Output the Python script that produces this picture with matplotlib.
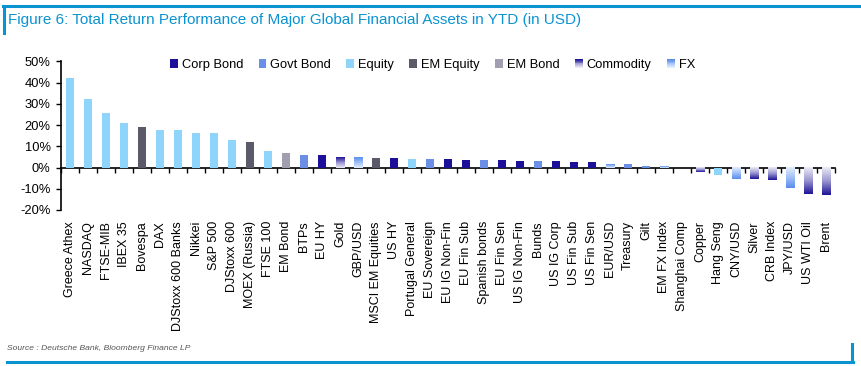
import numpy as np
import matplotlib
matplotlib.use("Agg")
import matplotlib.pyplot as plt
from matplotlib.patches import Rectangle
from matplotlib.lines import Line2D
from matplotlib.legend_handler import HandlerBase
from matplotlib.colors import LinearSegmentedColormap

plt.rcParams['font.family'] = ['Liberation Sans', 'DejaVu Sans']

categories = ["Greece Athex", "NASDAQ", "FTSE-MIB", "IBEX 35", "Bovespa", "DAX",
              "DJStoxx 600 Banks", "Nikkei", "S&P 500", "DJStoxx 600", "MOEX (Russia)",
              "FTSE 100", "EM Bond", "BTPs", "EU HY", "Gold", "GBP/USD",
              "MSCI EM Equities", "US HY", "Portugal General", "EU Sovereign",
              "EU IG Non-Fin", "EU Fin Sub", "Spanish bonds", "EU Fin Sen",
              "US IG Non-Fin", "Bunds", "US IG Corp", "US Fin Sub", "US Fin Sen",
              "EUR/USD", "Treasury", "Gilt", "EM FX Index", "Shanghai Comp", "Copper",
              "Hang Seng", "CNY/USD", "Silver", "CRB Index", "JPY/USD", "US WTI Oil", "Brent"]
values = [42.3, 32.1, 25.5, 21.1, 18.9, 17.9, 17.9, 16.4, 16.4, 13.1, 12.1,
          7.9, 6.9, 6.0, 6.0, 5.1, 5.1, 4.6, 4.6, 4.1, 4.1,
          4.1, 3.6, 3.6, 3.6, 3.2, 3.2, 3.2, 2.7, 2.7,
          1.7, 1.7, 0.8, 0.8, -0.2, -2.1, -3.5, -5.5, -5.4, -5.8, -9.6, -12.4, -12.9]
asset_class = ["Equity", "Equity", "Equity", "Equity", "EM Equity", "Equity",
               "Equity", "Equity", "Equity", "Equity", "EM Equity",
               "Equity", "EM Bond", "Govt Bond", "Corp Bond", "Commodity", "FX",
               "EM Equity", "Corp Bond", "Equity", "Govt Bond",
               "Corp Bond", "Corp Bond", "Govt Bond", "Corp Bond",
               "Corp Bond", "Govt Bond", "Corp Bond", "Corp Bond", "Corp Bond",
               "FX", "Govt Bond", "Govt Bond", "FX", "EM Equity", "Commodity",
               "Equity", "FX", "Commodity", "Commodity", "FX", "Commodity", "Commodity"]
legend_order = ["Corp Bond", "Govt Bond", "Equity", "EM Equity", "EM Bond", "Commodity", "FX"]
y_ticks = [-20, -10, 0, 10, 20, 30, 40, 50]

solid_colors = {"Corp Bond": "#1c1099", "Govt Bond": "#6b8ee6", "Equity": "#8fd4fa",
                "EM Equity": "#5b5a68", "EM Bond": "#a09fb0"}
grad_cmaps = {
    "Commodity": LinearSegmentedColormap.from_list("comm", ["#ecebf6", "#9a96d0", "#1e1397"]),
    "FX": LinearSegmentedColormap.from_list("fx", ["#e3edfc", "#9fc0f6", "#5a8cec"]),
}

BLUE = "#0a93d1"
W, H = 862, 366
fig = plt.figure(figsize=(W / 100, H / 100), dpi=100)

# frame decorations
fig.add_artist(Line2D([3 / W, 1.0], [1 - 6 / H, 1 - 6 / H], color=BLUE, lw=2.2))
fig.add_artist(Line2D([4 / W, 4 / W], [1 - 6 / H, 1 - 33 / H], color=BLUE, lw=2.2))
fig.add_artist(Line2D([7 / W, 853 / W], [1 - 362 / H, 1 - 362 / H], color=BLUE, lw=2.2))
fig.add_artist(Line2D([852 / W, 852 / W], [1 - 362 / H, 1 - 344 / H], color=BLUE, lw=2.2))

fig.text(8 / W, 1 - 20 / H, "Figure 6: Total Return Performance of Major Global Financial Assets in YTD (in USD)",
         color=BLUE, fontsize=11, va="center", ha="left")
fig.text(7 / W, 1 - 349 / H, "Source : Deutsche Bank, Bloomberg Finance LP",
         color="#555555", fontsize=6.1, style="italic", va="center", ha="left")

ax = fig.add_axes([61 / W, 1 - 210 / H, (835 - 61) / W, (210 - 61.5) / H])
x = np.arange(len(categories))
width = 0.45
ymin, ymax = y_ticks[0], y_ticks[-1]

for xi, v, cls in zip(x, values, asset_class):
    if cls in solid_colors:
        ax.bar(xi, v, width=width, color=solid_colors[cls], zorder=2)
    else:
        bars = ax.bar(xi, v, width=width, color="none", zorder=2)
        p = bars.patches[0]
        grad = np.linspace(0, 1, 64).reshape(-1, 1)
        ax.imshow(grad, cmap=grad_cmaps[cls], origin="lower", aspect="auto",
                  extent=[p.get_x(), p.get_x() + p.get_width(), 0, v], zorder=2,
                  interpolation="bilinear")

ax.set_xlim(-0.5, len(categories) - 0.5)
ax.set_ylim(ymin, ymax)
ax.set_yticks(y_ticks)
ax.set_yticklabels([f"{t}%" for t in y_ticks], fontsize=9.3)
ax.tick_params(axis="y", direction="out", length=3.5, width=1, pad=4)
ax.set_xticks(x)
ax.set_xticklabels(categories, rotation=90, fontsize=9, va="top", ha="center")
ax.tick_params(axis="x", length=0, pad=8)
for s in ["top", "right", "bottom"]:
    ax.spines[s].set_visible(False)
ax.spines["left"].set_linewidth(1.2)

# zero line with boundary ticks
zero_loc = (0 - ymin) / (ymax - ymin)
sec = ax.secondary_xaxis(zero_loc)
sec.set_xticks(np.arange(-0.5, len(categories), 1.0))
sec.set_xticklabels([])
sec.tick_params(direction="out", length=3.5, width=1)
sec.spines["bottom"].set_linewidth(1.2)


class GradHandler(HandlerBase):
    def __init__(self, cmap, n=10):
        super().__init__()
        self.cmap = cmap
        self.n = n

    def create_artists(self, legend, orig_handle, xdescent, ydescent, width, height, fontsize, trans):
        arts = []
        for k in range(self.n):
            r = Rectangle((-xdescent, -ydescent + k * height / self.n), width, height / self.n,
                          facecolor=self.cmap(k / (self.n - 1)), edgecolor="none", transform=trans)
            arts.append(r)
        return arts


handles, handler_map = [], {}
for name in legend_order:
    if name in solid_colors:
        h = Rectangle((0, 0), 1, 1, facecolor=solid_colors[name])
    else:
        h = Rectangle((0, 0), 1, 1, facecolor="none")
        handler_map[h] = GradHandler(grad_cmaps[name])
    handles.append(h)

leg = fig.legend(handles, legend_order, handler_map=handler_map, loc="center left",
                 bbox_to_anchor=(170 / W, 1 - 65 / H), ncol=7, frameon=False,
                 fontsize=9.3, handlelength=0.6, handleheight=0.6, handletextpad=0.3,
                 columnspacing=1.2, borderaxespad=0, borderpad=0)

fig.savefig("out.png", dpi=100)
